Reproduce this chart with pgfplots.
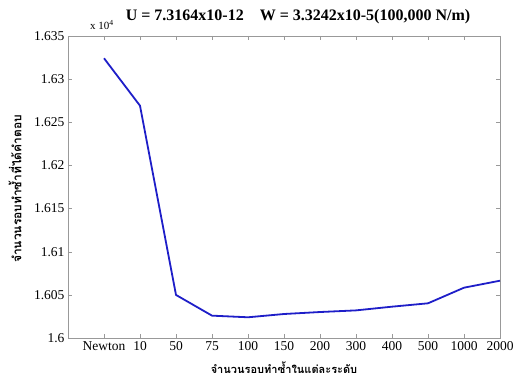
\documentclass[border=0pt]{standalone}
\usepackage{fontspec}
\setmainfont{Liberation Serif}
\newfontfamily\thaifont[Script=Thai]{Loma}
\usepackage{pgfplots}
\pgfplotsset{compat=1.18}
\definecolor{lineblue}{RGB}{30,30,200}
\begin{document}
\begin{tikzpicture}
\begin{axis}[
  scale only axis, width=432pt, height=302pt,
  xmin=0, xmax=12, ymin=1.6, ymax=1.635,
  xtick={1,2,3,4,5,6,7,8,9,10,11,12},
  xticklabels={Newton,10,50,75,100,150,200,300,400,500,1000,2000},
  ytick={1.6,1.605,1.61,1.615,1.62,1.625,1.63,1.635},
  yticklabels={1.6,1.605,1.61,1.615,1.62,1.625,1.63,1.635},
  /pgf/number format/assume math mode=true,
  tick align=inside, major tick length=4pt,
  tick label style={font=\fontsize{13.5}{14}\selectfont},
  axis line style={gray!80},
  tick style={gray!80},
  clip=true,
]
\addplot[lineblue, line width=1.8pt, line join=round] coordinates {
 (1,1.63242) (2,1.62692) (3,1.60499) (4,1.60259) (5,1.60240) (6,1.60278)
 (7,1.60301) (8,1.60320) (9,1.60363) (10,1.60402) (11,1.60583) (12,1.60664)
};
\end{axis}
\node[font=\bfseries\fontsize{16}{18}\selectfont] at ([xshift=14pt,yshift=19pt]current axis.north) {U = 7.3164x10-12\quad W = 3.3242x10-5(100,000 N/m)};
\node[anchor=south west, font=\fontsize{11}{12}\selectfont, inner sep=0pt] at ([xshift=22pt,yshift=6pt]current axis.north west) {x 10\textsuperscript{4}};
\node[font=\thaifont\bfseries\fontsize{11}{12}\selectfont] at ([yshift=-30pt]current axis.south) {จำนวนรอบทำซ้ำในแต่ละระดับ};
\node[font=\thaifont\bfseries\fontsize{12}{13}\selectfont, rotate=90] at ([xshift=-53pt,yshift=-2pt]current axis.west) {จำนวนรอบทำซ้ำที่ได้คำตอบ};
\pgfresetboundingbox
\path[use as bounding box] ([xshift=-68pt,yshift=-44pt]current axis.south west) rectangle ([xshift=20pt,yshift=36pt]current axis.north east);
\end{tikzpicture}
\end{document}
